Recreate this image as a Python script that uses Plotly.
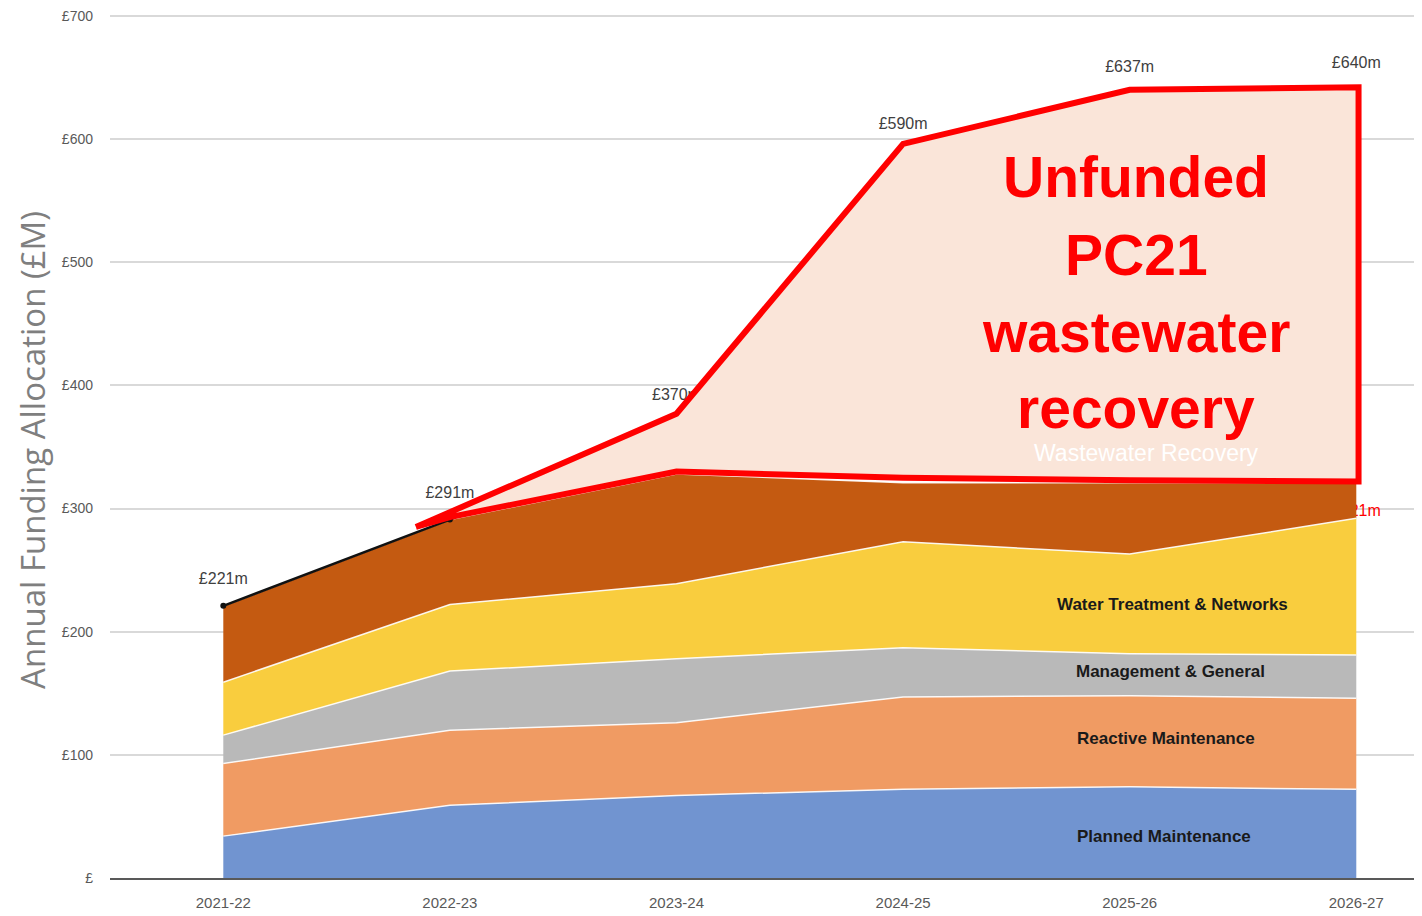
import plotly.graph_objects as go

# ---------------- data ----------------
years = ["2021-22", "2022-23", "2023-24", "2024-25", "2025-26", "2026-27"]
planned_maintenance = [34, 59, 67, 72, 74, 72]
reactive_maintenance = [59, 61, 59, 75, 74, 74]
management_general = [23, 48, 52, 40, 34, 35]
water_treatment_networks = [43, 54, 61, 86, 81, 111]
wastewater_recovery = [62, 69, 89, 48, 58, 29]
total_required = [221, 291, 370, 590, 637, 640]
total_labels = ["£221m", "£291m", "£370m", "£590m", "£637m", "£640m"]
funded_label = "£321m"
funded_label_value = 297

# hand-drawn "unfunded" outline (x in category units, y in £M)
unfunded_x = [0.85, 2.0, 3.0, 4.0, 5.01, 5.01, 4.0, 3.0, 2.0, 1.0, 0.85]
unfunded_y = [285, 377, 596, 640, 642, 322, 323, 325, 330, 293, 285]

y_ticks = [0, 100, 200, 300, 400, 500, 600, 700]
y_ticktext = ["£", "£100", "£200", "£300", "£400", "£500", "£600", "£700"]

series = [
    ("Planned Maintenance", planned_maintenance, "#7194D0"),
    ("Reactive Maintenance", reactive_maintenance, "#F09B63"),
    ("Management & General", management_general, "#B9B9B9"),
    ("Water Treatment & Networks", water_treatment_networks, "#F9CD3E"),
    ("Wastewater Recovery", wastewater_recovery, "#C45A11"),
]

xs = list(range(len(years)))
label_offset = 21  # in £M, places total labels above the points

fig = go.Figure()

# red label drawn first so that stacked areas cover part of it
fig.add_trace(go.Scatter(
    x=[xs[-1]], y=[funded_label_value], mode="text", text=[funded_label],
    textposition="middle center",
    textfont=dict(family="Liberation Sans, Arial", size=16, color="#FF0000"),
    showlegend=False, hoverinfo="skip"))

for name, vals, color in series:
    fig.add_trace(go.Scatter(
        x=xs, y=vals, name=name, stackgroup="funding", mode="lines",
        line=dict(color="rgba(255,255,255,0.9)", width=1.5),
        fillcolor=color, showlegend=False))

# total required line
fig.add_trace(go.Scatter(
    x=xs, y=total_required, mode="lines+markers",
    line=dict(color="#111111", width=2.5),
    marker=dict(color="#111111", size=6),
    showlegend=False, hoverinfo="skip"))

# total labels
fig.add_trace(go.Scatter(
    x=xs, y=[v + label_offset for v in total_required], mode="text",
    text=total_labels, textposition="middle center",
    textfont=dict(family="Liberation Sans, Arial", size=16, color="#404040"),
    showlegend=False, hoverinfo="skip"))

# unfunded outline
fig.add_trace(go.Scatter(
    x=unfunded_x, y=unfunded_y, mode="lines", fill="toself",
    fillcolor="#FAE5D9", line=dict(color="#FF0000", width=6),
    showlegend=False, hoverinfo="skip"))

annotations = []
# series labels
series_label_pos = {
    "Water Treatment & Networks": (4.19, 222),
    "Management & General": (4.18, 168),
    "Reactive Maintenance": (4.16, 113),
    "Planned Maintenance": (4.15, 34),
}
for name, (ax_, ay_) in series_label_pos.items():
    annotations.append(dict(x=ax_, y=ay_, xref="x", yref="y", text=name,
                            showarrow=False,
                            font=dict(family="Liberation Sans, Arial", size=17,
                                      color="#1A1A1A", weight="bold")))
annotations.append(dict(x=4.075, y=345, xref="x", yref="y",
                        text="Wastewater Recovery", showarrow=False,
                        font=dict(family="Liberation Sans, Arial", size=23,
                                  color="#FFFFFF")))
# big red callout text
for txt, ty in [("Unfunded", 569), ("PC21", 506), ("wastewater", 443), ("recovery", 382)]:
    annotations.append(dict(x=4.03, y=ty, xref="x", yref="y", text=txt,
                            showarrow=False,
                            font=dict(family="Liberation Sans, Arial", size=57,
                                      color="#FF0000", weight="bold")))
# y axis title
annotations.append(dict(x=-0.059, y=0.495, xref="paper", yref="paper",
                        text="Annual Funding Allocation (£M)", textangle=-90,
                        showarrow=False, xanchor="center", yanchor="middle",
                        font=dict(family="Open Sans, Liberation Sans", size=33,
                                  color="#7F7F7F")))

# page body adds an 8px offset, so the figure is sized to end at the window edge
fig.update_layout(
    width=1414, height=908,
    margin=dict(l=102, r=0, t=4, b=38),
    paper_bgcolor="white", plot_bgcolor="white",
    annotations=annotations,
    xaxis=dict(range=[-0.5, 5.29], tickvals=xs, ticktext=years,
               showgrid=False, zeroline=False, showline=True,
               linecolor="#595959", linewidth=2, ticks="",
               ticklabelstandoff=10,
               tickfont=dict(family="Liberation Sans Narrow, Liberation Sans", size=15,
                             color="#595959")),
    yaxis=dict(range=[0, 701.5], tickvals=y_ticks, ticktext=y_ticktext,
               showgrid=True, gridcolor="#D9D9D9", gridwidth=1.5,
               zeroline=False, ticks="", ticklabelstandoff=16,
               ticklabeloverflow="allow",
               tickfont=dict(family="Liberation Sans, Arial", size=14,
                             color="#595959")),
)

fig.write_html("out.html")
